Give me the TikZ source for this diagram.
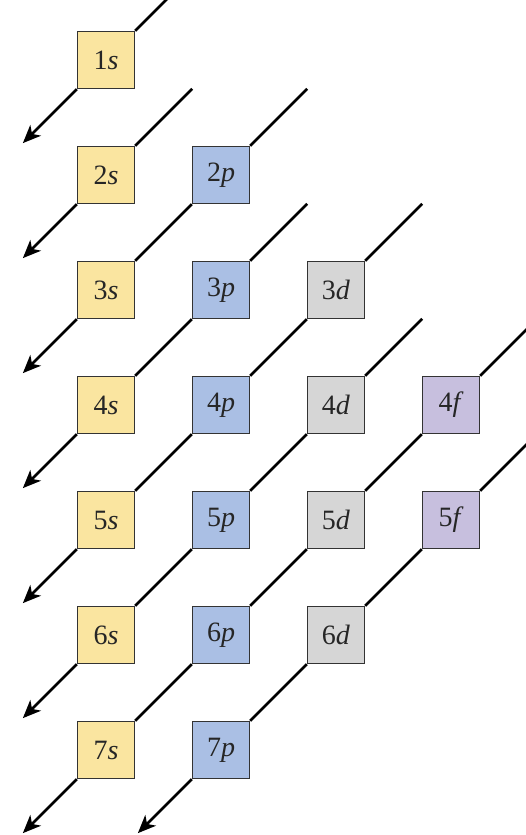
\documentclass[tikz,border=0pt]{standalone}
\usepackage{fontspec}
\setmainfont{Liberation Serif}
\usetikzlibrary{positioning,calc,arrows.meta}
\definecolor{sorb}{RGB}{250,229,160}
\definecolor{porb}{RGB}{170,191,228}
\definecolor{dorb}{RGB}{214,214,214}
\definecolor{forb}{RGB}{199,191,222}
\tikzset{
  orbbox/.style={draw=black!80,line width=1.3pt,minimum size=57pt,inner sep=0pt,
    text=black!85,font=\fontsize{28}{32}\selectfont},
  diag/.style={line width=2.8pt,line cap=butt},
  diagarrow/.style={diag,-{Stealth[length=18pt,width=15pt,inset=5pt]}}
}
\newcommand{\orb}[2]{#1\textit{#2}}

\begin{document}
\begin{tikzpicture}[x=1pt,y=1pt]
  \clip (0,0) rectangle (526,835);
  % boxes, one column per subshell
  \foreach \n in {1,...,7} \node[orbbox,fill=sorb] (s\n) at (106,{775-115*(\n-1)}) {\orb{\n}{s}};
  \foreach \n in {2,...,7} \node[orbbox,fill=porb] (p\n) at (221,{775-115*(\n-1)}) {\orb{\n}{p}};
  \foreach \n in {3,...,6} \node[orbbox,fill=dorb] (d\n) at (336,{775-115*(\n-1)}) {\orb{\n}{d}};
  \foreach \n in {4,5}     \node[orbbox,fill=forb] (f\n) at (451,{775-115*(\n-1)}) {\orb{\n}{f}};
  % free ends of the diagonals
  \coordinate (e1) at ($(s1.north east)+(32,32)$);
  \foreach \b/\k in {s2/2,p2/3,p3/4,d3/5,d4/6,f4/7,f5/8}
    \coordinate (e\k) at ($(\b.north east)+(57,57)$);
  \foreach \b/\k in {s1/1,s2/2,s3/3,s4/4,s5/5,s6/6,s7/7,p7/8}
    \coordinate (a\k) at ($(\b.south west)+(-54,-54)$);
  % diagonals
  \foreach \a/\b in {s3/p2,s4/p3,s5/p4,p4/d3,s6/p5,p5/d4,s7/p6,p6/d5,d5/f4,p7/d6,d6/f5}
    \draw[diag] (\a.north east) -- (\b.south west);
  \foreach \b/\k in {s1/1,s2/2,p2/3,p3/4,d3/5,d4/6,f4/7,f5/8}
    \draw[diag] (\b.north east) -- (e\k);
  \foreach \b/\k in {s1/1,s2/2,s3/3,s4/4,s5/5,s6/6,s7/7,p7/8}
    \draw[diagarrow] (\b.south west) -- (a\k);
\end{tikzpicture}
\end{document}
